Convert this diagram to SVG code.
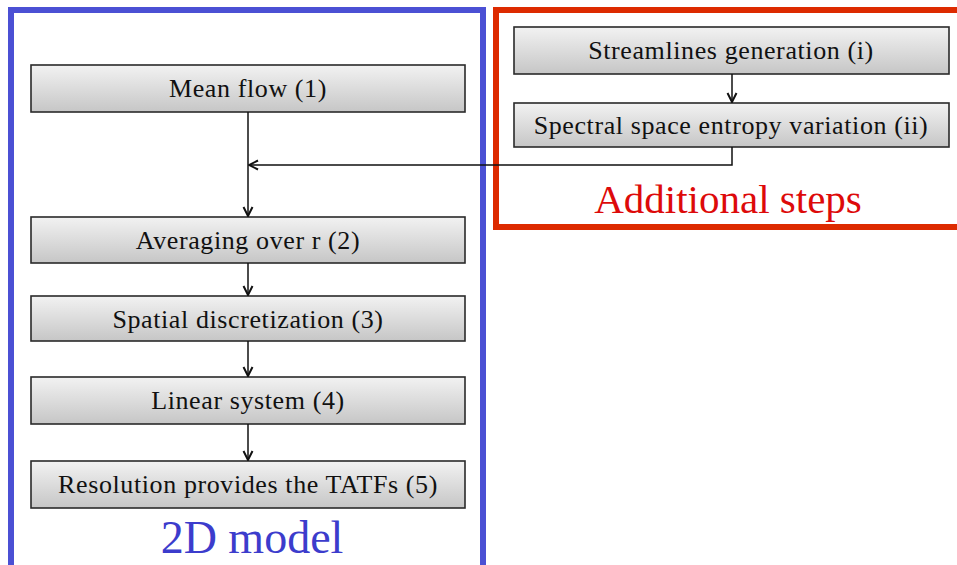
<svg xmlns="http://www.w3.org/2000/svg" width="957" height="565" viewBox="0 0 957 565">
<defs>
<linearGradient id="boxg" x1="0" y1="0" x2="0" y2="1">
<stop offset="0" stop-color="#f2f2f2"/>
<stop offset="1" stop-color="#c6c6c6"/>
</linearGradient>
<marker id="arr" viewBox="0 0 12 12" refX="11" refY="6" markerWidth="12" markerHeight="12" markerUnits="userSpaceOnUse" orient="auto">
<path d="M2,1.5 L11,6 L2,10.5" fill="none" stroke="#111" stroke-width="2"/>
</marker>
</defs>
<style>
.box{fill:url(#boxg);stroke:#2a2a2a;stroke-width:1.6}
.lbl{font-family:"Liberation Serif","Times New Roman",serif;font-size:26px;letter-spacing:0.6px;fill:#111;text-anchor:middle}
.con{fill:none;stroke:#111;stroke-width:1.5;marker-end:url(#arr)}
</style>
<rect width="957" height="565" fill="#ffffff"/>
<g id="frame-2d">
<rect x="11" y="10" width="472" height="565" fill="none" stroke="#4b50d4" stroke-width="6"/>
<text x="252" y="553" font-family="Liberation Serif,serif" font-size="46" fill="#3c3ccc" text-anchor="middle">2D model</text>
</g>
<g id="frame-additional">
<rect x="496" y="10" width="470" height="217" fill="none" stroke="#dd2a00" stroke-width="6"/>
<text x="728" y="213" font-family="Liberation Serif,serif" font-size="41" fill="#dd0a0a" text-anchor="middle">Additional steps</text>
</g>
<g id="n1"><rect class="box" x="31" y="65" width="434" height="47"/><text class="lbl" x="248" y="97">Mean flow (1)</text></g>
<g id="n2"><rect class="box" x="31" y="217" width="434" height="46"/><text class="lbl" x="248" y="249">Averaging over r (2)</text></g>
<g id="n3"><rect class="box" x="31" y="296" width="434" height="45"/><text class="lbl" x="248" y="328">Spatial discretization (3)</text></g>
<g id="n4"><rect class="box" x="31" y="377" width="434" height="47"/><text class="lbl" x="248" y="409">Linear system (4)</text></g>
<g id="n5"><rect class="box" x="31" y="461" width="434" height="47"/><text class="lbl" x="248" y="493">Resolution provides the TATFs (5)</text></g>
<g id="ni"><rect class="box" x="514" y="27" width="435" height="47"/><text class="lbl" x="731" y="59">Streamlines generation (i)</text></g>
<g id="nii"><rect class="box" x="514" y="103" width="435" height="44"/><text class="lbl" x="731" y="134">Spectral space entropy variation (ii)</text></g>
<g id="connectors">
<path class="con" d="M248,112 V216"/>
<path class="con" d="M732,147 V165 H249"/>
<path class="con" d="M248,263 V295"/>
<path class="con" d="M248,341 V376"/>
<path class="con" d="M248,424 V460"/>
<path class="con" d="M732,74 V102"/>
</g>
</svg>
